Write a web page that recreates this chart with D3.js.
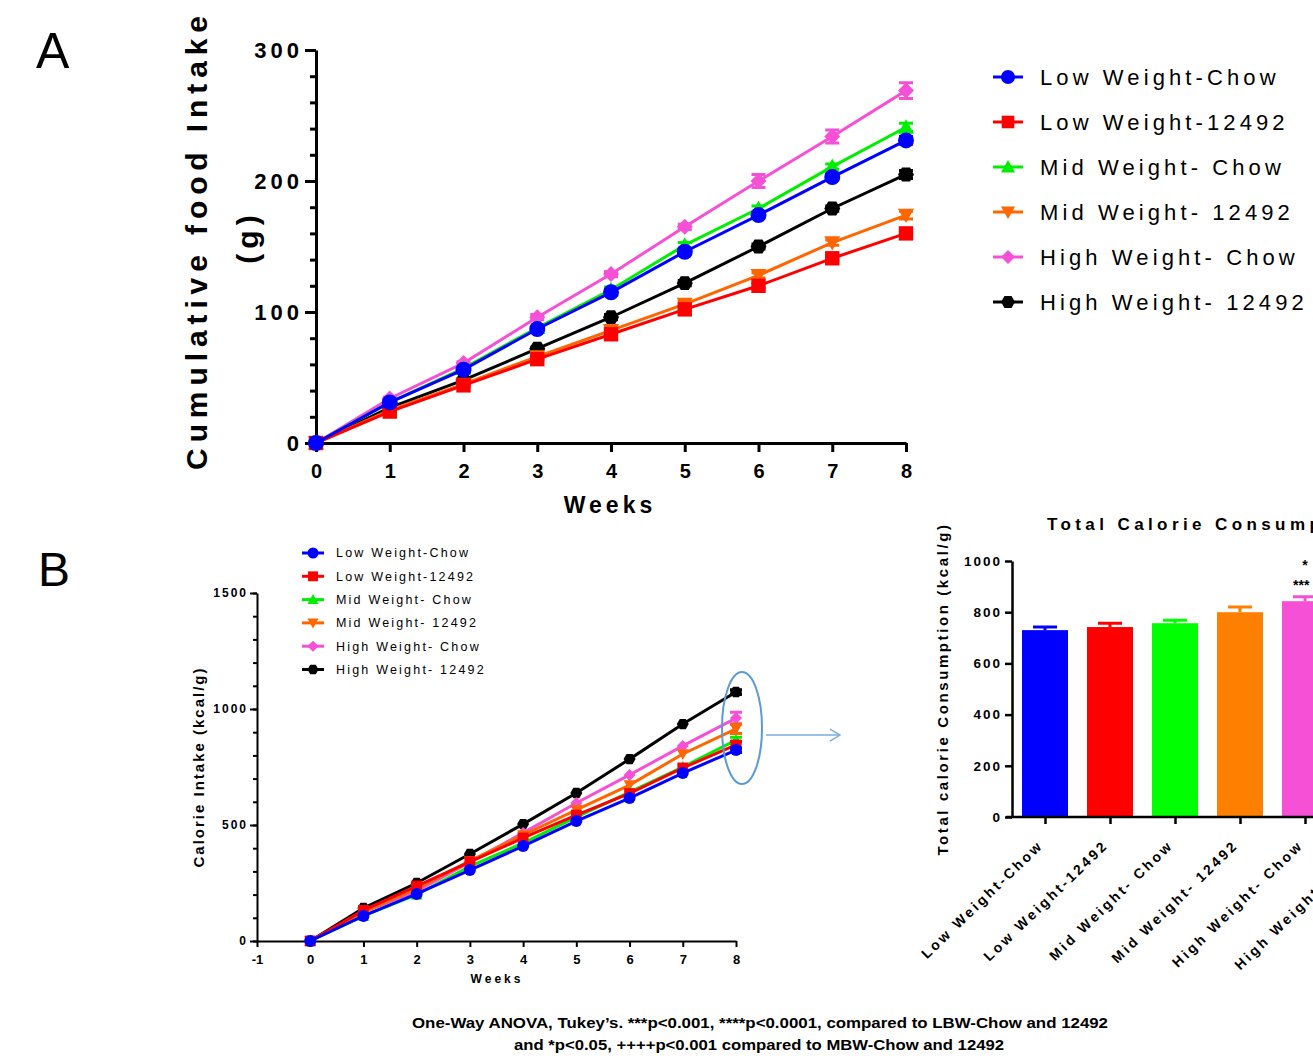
<!DOCTYPE html>
<html>
<head>
<meta charset="utf-8">
<script src="https://cdn.jsdelivr.net/npm/d3@7"></script>
<style>
  body { margin: 0; background: #fff; }
  svg { display: block; font-family: Arial, "Liberation Sans", sans-serif; }
</style>
</head>
<body>
<div id="chart-area"></div>
<script>

// ---- data ----
var groups = ["Low Weight-Chow", "Low Weight-12492", "Mid Weight- Chow", "Mid Weight- 12492", "High Weight- Chow", "High Weight- 12492"];
var barLabels = ["Low Weight-Chow", "Low Weight-12492", "Mid Weight- Chow", "Mid Weight- 12492", "High Weight- Chow", "High Weight- 12492"];
var colors = ["#0000ff", "#ff0000", "#00ee00", "#ff6600", "#f550d6", "#000000"];
var barColors = ["#0000ff", "#ff0000", "#00ff00", "#ff8000", "#f550d6", "#000000"];
var weeks = [0, 1, 2, 3, 4, 5, 6, 7, 8];

// panel A - cumulative food intake (g)
var foodLowChow    = [0, 31, 56, 87, 115, 146, 174, 203, 231];
var foodLow12492   = [0, 24, 44, 64, 83, 102, 120, 141, 160];
var foodMidChow    = [0, 31, 57, 88, 117, 151, 179, 211, 241];
var foodMid12492   = [0, 25, 45, 66, 86, 106, 128, 153, 174];
var foodHighChow   = [0, 34, 61, 96, 129, 165, 200, 234, 269];
var foodHigh12492  = [0, 27, 48, 72, 96, 122, 150, 179, 205];
var foodErrHighChow = [0, 1, 1, 2, 2, 2, 5, 5, 6];
var foodErrOther    = [0, 1, 1, 1, 2, 2, 2, 2, 3];

// panel B - calorie intake (kcal/g)
var calLowChow   = [0, 108, 203, 306, 409, 517, 616, 724, 823];
var calLow12492  = [0, 132, 237, 341, 444, 543, 636, 746, 845];
var calMidChow   = [0, 108, 200, 322, 422, 534, 642, 750, 866];
var calMid12492  = [0, 125, 225, 345, 457, 565, 672, 806, 914];
var calHighChow  = [0, 125, 215, 340, 466, 595, 716, 841, 961];
var calHigh12492 = [0, 142, 250, 375, 504, 638, 784, 935, 1073];
var calErrWeek8  = [10, 15, 12, 20, 25, 10];

// bar chart - total calorie consumption
var totals    = [730, 742, 757, 800, 843, 1073];
var totalsErr = [12, 15, 12, 20, 17, 20];
var sigTop    = ["", "", "", "", "*", ""];
var sigBottom = ["", "", "", "", "***", ""];

var foodSeries = [foodLowChow, foodLow12492, foodMidChow, foodMid12492, foodHighChow, foodHigh12492];
var calSeries  = [calLowChow, calLow12492, calMidChow, calMid12492, calHighChow, calHigh12492];

var plain = function(d) { return String(d); };

// ---- marker shapes ----
var triDown = { draw: function(ctx, size) {
    var r = Math.sqrt(size) / 2;
    ctx.moveTo(-r, -r * 0.8); ctx.lineTo(r, -r * 0.8); ctx.lineTo(0, r); ctx.closePath();
}};
var triUp = { draw: function(ctx, size) {
    var r = Math.sqrt(size) / 2;
    ctx.moveTo(-r, r * 0.8); ctx.lineTo(r, r * 0.8); ctx.lineTo(0, -r); ctx.closePath();
}};
var diamond = { draw: function(ctx, size) {
    var r = Math.sqrt(size) / 2;
    ctx.moveTo(0, -r); ctx.lineTo(r, 0); ctx.lineTo(0, r); ctx.lineTo(-r, 0); ctx.closePath();
}};
var square = { draw: function(ctx, size) {
    var r = Math.sqrt(size) / 2 * 0.9;
    ctx.rect(-r, -r, 2 * r, 2 * r);
}};
var circle = { draw: function(ctx, size) {
    var r = Math.sqrt(size) / 2;
    ctx.moveTo(r, 0); ctx.arc(0, 0, r, 0, 2 * Math.PI);
}};
var hexagon = { draw: function(ctx, size) {
    var r = Math.sqrt(size) / 2;
    for (var i = 0; i < 6; i++) {
        var a = i * Math.PI / 3;
        if (i == 0) ctx.moveTo(r * Math.cos(a), r * Math.sin(a));
        else ctx.lineTo(r * Math.cos(a), r * Math.sin(a));
    }
    ctx.closePath();
}};
var shapes = [circle, square, triUp, triDown, diamond, hexagon];

var svg = d3.select("#chart-area")
    .append("svg")
    .attr("width", 1313)
    .attr("height", 1059);

svg.append("rect").attr("width", 1313).attr("height", 1059).attr("fill", "white");

// panel letters
svg.append("text").attr("x", 36).attr("y", 68).text("A")
    .style("font-size", "50px");
svg.append("text").attr("x", 38).attr("y", 586).text("B")
    .style("font-size", "48px");

// draw a line panel
function drawLinePanel(opt)
{
    var g = svg.append("g");
    var x = d3.scaleLinear().domain(opt.xDomain).range(opt.xRange);
    var y = d3.scaleLinear().domain(opt.yDomain).range(opt.yRange);

    // minor ticks
    g.append("g")
        .attr("transform", "translate(" + opt.xRange[0] + ",0)")
        .call(d3.axisLeft(y).tickValues(d3.range(opt.yDomain[0], opt.yDomain[1] + 1, opt.minorStep))
            .tickSize(opt.minorLen).tickFormat("").tickSizeOuter(0))
        .call(function(a) {
            a.selectAll("line").attr("stroke-width", opt.axisW);
            a.select(".domain").remove();
        });

    var yAxis = g.append("g")
        .attr("transform", "translate(" + opt.xRange[0] + ",0)")
        .call(d3.axisLeft(y).tickValues(opt.yTicks).tickFormat(plain)
            .tickSize(opt.majorLen).tickSizeOuter(0).tickPadding(opt.yPad));
    yAxis.select(".domain").attr("stroke-width", opt.axisW);
    yAxis.selectAll("line").attr("stroke-width", opt.axisW);
    yAxis.selectAll("text")
        .style("font-size", opt.tickFont + "px")
        .style("font-weight", "bold")
        .style("letter-spacing", opt.tickSpacing + "px")
        .attr("fill", "black");

    var xAxis = g.append("g")
        .attr("transform", "translate(0," + opt.yRange[0] + ")")
        .call(d3.axisBottom(x).tickValues(opt.xTicks).tickFormat(plain)
            .tickSize(opt.xTickLen).tickSizeOuter(0).tickPadding(opt.xPad));
    xAxis.select(".domain").attr("stroke-width", opt.axisW);
    xAxis.selectAll("line").attr("stroke-width", opt.axisW);
    xAxis.selectAll("text")
        .style("font-size", opt.xFont + "px")
        .style("font-weight", "bold")
        .attr("fill", "black");

    var line = d3.line()
        .x(function(d) { return x(d.w); })
        .y(function(d) { return y(d.v); });

    // draw in reverse so Low Weight-Chow ends on top
    for (var s = groups.length - 1; s >= 0; s--) {
        var errs = opt.errors(s);
        var pts = opt.series[s].map(function(v, i) { return { w: weeks[i], v: v, e: errs[i] }; });
        var sg = g.append("g");
        sg.append("path")
            .datum(pts)
            .attr("d", line)
            .attr("fill", "none")
            .attr("stroke", colors[s])
            .attr("stroke-width", opt.lineW);

        sg.selectAll(".err")
            .data(pts.filter(function(p) { return p.e > 0; }))
            .enter()
            .append("path")
            .attr("d", function(p) {
                var cx = x(p.w);
                var top = y(p.v + p.e), bot = y(p.v - p.e);
                var c = opt.capW / 2;
                return "M" + cx + "," + top + "V" + bot +
                    "M" + (cx - c) + "," + top + "H" + (cx + c) +
                    "M" + (cx - c) + "," + bot + "H" + (cx + c);
            })
            .attr("fill", "none")
            .attr("stroke", colors[s])
            .attr("stroke-width", opt.lineW);

        sg.selectAll(".pt")
            .data(pts)
            .enter()
            .append("path")
            .attr("transform", function(p) { return "translate(" + x(p.w) + "," + y(p.v) + ")"; })
            .attr("d", d3.symbol().type(shapes[s]).size(opt.markSize * opt.markSize))
            .attr("fill", colors[s]);
    }

    // legend
    var lg = g.append("g");
    groups.forEach(function(name, i) {
        var ly = opt.legY + i * opt.legStep;
        lg.append("line")
            .attr("x1", opt.legX - opt.legLine).attr("x2", opt.legX + opt.legLine)
            .attr("y1", ly).attr("y2", ly)
            .attr("stroke", colors[i]).attr("stroke-width", opt.lineW);
        lg.append("path")
            .attr("transform", "translate(" + opt.legX + "," + ly + ")")
            .attr("d", d3.symbol().type(shapes[i]).size(opt.legMark * opt.legMark))
            .attr("fill", colors[i]);
        lg.append("text")
            .attr("x", opt.legTextX).attr("y", ly)
            .attr("dy", "0.35em")
            .text(name)
            .style("font-size", opt.legFont + "px")
            .style("letter-spacing", opt.legSpacing + "px");
    });
    return { x: x, y: y };
}

// ---- panel A ----
drawLinePanel({
    xDomain: [0, 8], xRange: [316, 906],
    yDomain: [0, 300], yRange: [443, 50],
    yTicks: [0, 100, 200, 300], minorStep: 20, minorLen: 6, majorLen: 11, yPad: 2,
    xTicks: weeks, xTickLen: 9, xPad: 12,
    axisW: 3, tickFont: 22, tickSpacing: 4, xFont: 20,
    series: foodSeries,
    errors: function(s) { return s == 4 ? foodErrHighChow : foodErrOther; },
    lineW: 3, capW: 14, markSize: 16,
    legX: 1008, legY: 77, legStep: 45, legLine: 15, legMark: 14, legTextX: 1040,
    legFont: 22, legSpacing: 4.1
});

svg.append("text")
    .attr("transform", "translate(207,240) rotate(-90)")
    .attr("text-anchor", "middle")
    .text("Cumulative food Intake")
    .style("font-size", "30px").style("font-weight", "bold").style("letter-spacing", "5.9px");
svg.append("text")
    .attr("transform", "translate(258,237) rotate(-90)")
    .attr("text-anchor", "middle")
    .text("(g)")
    .style("font-size", "30px").style("font-weight", "bold").style("letter-spacing", "5px");
svg.append("text")
    .attr("x", 610).attr("y", 513)
    .attr("text-anchor", "middle")
    .text("Weeks")
    .style("font-size", "23px").style("font-weight", "bold").style("letter-spacing", "4px");

// ---- panel B ----
var bScales = drawLinePanel({
    xDomain: [-1, 8], xRange: [257, 736],
    yDomain: [0, 1500], yRange: [941, 593],
    yTicks: [0, 500, 1000, 1500], minorStep: 100, minorLen: 4, majorLen: 7, yPad: 2,
    xTicks: d3.range(-1, 9), xTickLen: 6, xPad: 8,
    axisW: 2, tickFont: 12, tickSpacing: 2, xFont: 13,
    series: calSeries,
    errors: function(s) { return weeks.map(function(w, i) { return i == 8 ? calErrWeek8[s] : 0; }); },
    lineW: 3, capW: 12, markSize: 12,
    legX: 313, legY: 553, legStep: 23.3, legLine: 11, legMark: 11, legTextX: 336,
    legFont: 12.5, legSpacing: 2.2
});

svg.append("text")
    .attr("transform", "translate(204,767) rotate(-90)")
    .attr("text-anchor", "middle")
    .text("Calorie Intake (kcal/g)")
    .style("font-size", "15px").style("font-weight", "bold").style("letter-spacing", "2px");
svg.append("text")
    .attr("x", 497).attr("y", 983)
    .attr("text-anchor", "middle")
    .text("Weeks")
    .style("font-size", "12px").style("font-weight", "bold").style("letter-spacing", "3px");

// highlight ellipse and arrow
var hx = bScales.x(8) + 6, hy = bScales.y((calHigh12492[8] + calLowChow[8]) / 2) + 7;
svg.append("ellipse")
    .attr("cx", hx).attr("cy", hy).attr("rx", 20).attr("ry", 56)
    .attr("fill", "none").attr("stroke", "#5b9bd5").attr("stroke-width", 2);
svg.append("path")
    .attr("d", "M" + (hx + 24) + "," + (hy + 7) + "H840")
    .attr("fill", "none").attr("stroke", "#7aaedc").attr("stroke-width", 1.5);
svg.append("path")
    .attr("d", "M830," + (hy + 1) + "L840," + (hy + 7) + "L830," + (hy + 13))
    .attr("fill", "none").attr("stroke", "#7aaedc").attr("stroke-width", 1.5);

// ---- bar chart ----
var bx = d3.scalePoint().domain(barLabels).range([1045, 1370]);
var by = d3.scaleLinear().domain([0, 1000]).range([817, 561]);
var barW = 46;
var bg = svg.append("g");

bg.selectAll(".bar")
    .data(totals)
    .enter()
    .append("rect")
    .attr("x", function(d, i) { return bx(barLabels[i]) - barW / 2; })
    .attr("y", function(d) { return by(d); })
    .attr("width", barW)
    .attr("height", function(d) { return by(0) - by(d); })
    .attr("fill", function(d, i) { return barColors[i]; });

bg.selectAll(".berr")
    .data(totals)
    .enter()
    .append("path")
    .attr("d", function(d, i) {
        var cx = bx(barLabels[i]);
        var t = by(d + totalsErr[i]);
        return "M" + cx + "," + by(d) + "V" + t + "M" + (cx - 12) + "," + t + "H" + (cx + 12);
    })
    .attr("stroke", function(d, i) { return barColors[i]; })
    .attr("stroke-width", 3)
    .attr("fill", "none");

bg.selectAll(".sig1")
    .data(totals)
    .enter()
    .append("text")
    .attr("x", function(d, i) { return bx(barLabels[i]); })
    .attr("y", 570)
    .attr("text-anchor", "middle")
    .text(function(d, i) { return sigTop[i]; })
    .style("font-size", "14px").style("font-weight", "bold");
bg.selectAll(".sig2")
    .data(totals)
    .enter()
    .append("text")
    .attr("x", function(d, i) { return bx(barLabels[i]) - 12; })
    .attr("y", 590)
    .text(function(d, i) { return sigBottom[i]; })
    .style("font-size", "14px").style("font-weight", "bold");

var byAxis = bg.append("g")
    .attr("transform", "translate(1012,0)")
    .call(d3.axisLeft(by).tickValues([0, 200, 400, 600, 800, 1000]).tickFormat(plain)
        .tickSize(7).tickSizeOuter(0).tickPadding(3));
byAxis.select(".domain").attr("stroke-width", 2.5);
byAxis.selectAll("line").attr("stroke-width", 2.5);
byAxis.selectAll("text")
    .style("font-size", "13.5px").style("font-weight", "bold").style("letter-spacing", "2px")
    .attr("fill", "black");

var bxAxis = bg.append("g")
    .attr("transform", "translate(0,817)")
    .call(d3.axisBottom(bx).tickSize(7).tickSizeOuter(0).tickPadding(10));
bxAxis.select(".domain").attr("d", "M1006,0H1420").attr("stroke-width", 2.5);
bxAxis.selectAll("line").attr("stroke-width", 2.5);
bxAxis.selectAll("text")
    .attr("text-anchor", "end")
    .attr("transform", "translate(-16,14) rotate(-44)")
    .attr("dy", "0.3em")
    .style("font-size", "14px").style("font-weight", "bold").style("letter-spacing", "2.8px")
    .attr("fill", "black");

svg.append("text")
    .attr("x", 1047).attr("y", 530)
    .text("Total Calorie Consumption")
    .style("font-size", "17px").style("font-weight", "bold").style("letter-spacing", "4.4px");
svg.append("text")
    .attr("transform", "translate(948,689) rotate(-90)")
    .attr("text-anchor", "middle")
    .text("Total calorie Consumption (kcal/g)")
    .style("font-size", "15px").style("font-weight", "bold").style("letter-spacing", "2.6px");

// footnote
svg.append("text")
    .attr("x", 760).attr("y", 1028)
    .attr("text-anchor", "middle")
    .attr("textLength", 696)
    .attr("lengthAdjust", "spacingAndGlyphs")
    .text("One-Way ANOVA, Tukey\u2019s. ***p<0.001, ****p<0.0001, compared to LBW-Chow and 12492")
    .style("font-size", "15px").style("font-weight", "bold");
svg.append("text")
    .attr("x", 759).attr("y", 1050)
    .attr("text-anchor", "middle")
    .attr("textLength", 490)
    .attr("lengthAdjust", "spacingAndGlyphs")
    .text("and *p<0.05, ++++p<0.001 compared to MBW-Chow and 12492")
    .style("font-size", "15px").style("font-weight", "bold");

</script>
</body>
</html>
